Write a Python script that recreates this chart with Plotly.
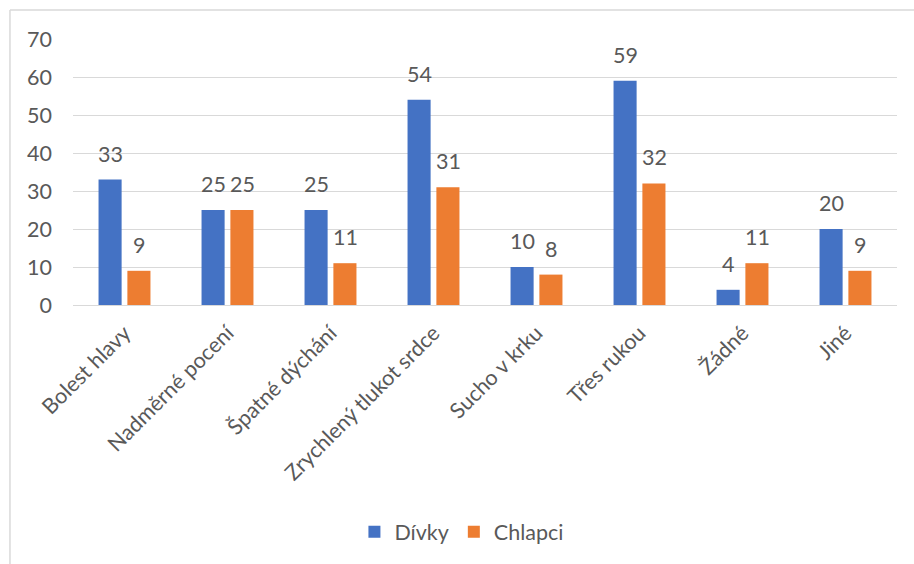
import plotly.graph_objects as go

categories = ["Bolest hlavy", "Nadměrné pocení", "Špatné dýchání", "Zrychlený tlukot srdce",
              "Sucho v krku", "Třes rukou", "Žádné", "Jiné"]
divky = [33, 25, 25, 54, 10, 59, 4, 20]
chlapci = [9, 25, 11, 31, 8, 32, 11, 9]
series_names = ["Dívky", "Chlapci"]
colors = ["#4472C4", "#ED7D31"]
y_ticks = [0, 10, 20, 30, 40, 50, 60, 70]

FONT = "Lato"
TXT = "#595959"
FS = 21.5

fig = go.Figure()
for name, vals, col in zip(series_names, [divky, chlapci], colors):
    fig.add_trace(go.Bar(x=categories, y=vals, name=name, marker_color=col,
                         marker_line_width=0))

annotations = []
for vals, shift in zip([divky, chlapci], [-14.5, 14.5]):
    for c, v in zip(categories, vals):
        annotations.append(dict(x=c, y=v, xref="x", yref="y", text=str(v), showarrow=False,
                                xshift=shift, yshift=26, yanchor="middle",
                                font=dict(family=FONT, size=FS, color=TXT)))

fig.update_layout(
    width=914, height=564,
    margin=dict(l=73, r=17, t=39, b=259),
    paper_bgcolor="white", plot_bgcolor="white",
    barmode="group", bargap=0.44, bargroupgap=0.2,
    font=dict(family=FONT, size=FS, color=TXT),
    showlegend=True,
    legend=dict(orientation="h", x=0.472, xanchor="center", y=-0.853, yanchor="middle",
                font=dict(family=FONT, size=FS, color=TXT), itemwidth=30),
    annotations=annotations,
    xaxis=dict(tickangle=-45, showgrid=False, showline=True, linecolor="#d9d9d9",
               linewidth=1, ticks="", ticklabelstandoff=6,
               tickfont=dict(family=FONT, size=FS, color=TXT)),
    yaxis=dict(range=[0, 70], tickvals=y_ticks, showgrid=True, gridcolor="#d9d9d9",
               gridwidth=1, zeroline=False, showline=False, ticks="",
               ticklabelstandoff=20,
               tickfont=dict(family=FONT, size=FS, color=TXT)),
    shapes=[
        dict(type="line", xref="paper", yref="paper", x0=-0.0765, x1=1.2, y0=1.109, y1=1.109,
             line=dict(color="#d9d9d9", width=1.5)),
        dict(type="line", xref="paper", yref="paper", x0=-0.0765, x1=-0.0765, y0=1.109, y1=-1.2,
             line=dict(color="#d9d9d9", width=1.5)),
    ],
)

fig.write_html("out.html")
